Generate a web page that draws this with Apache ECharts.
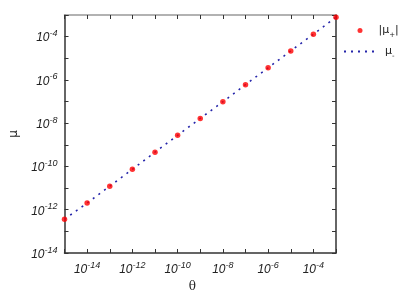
<!DOCTYPE html>
<html><head><meta charset="utf-8">
<script src="https://cdn.jsdelivr.net/npm/echarts@6/dist/echarts.min.js"></script>
<style>html,body{margin:0;padding:0;background:#fff}#c{width:415px;height:291px}</style>
</head><body><div id="c"></div>
<script>
const theta = [1e-15,1e-14,1e-13,1e-12,1e-11,1e-10,1e-9,1e-8,1e-7,1e-6,1e-5,1e-4,1e-3];
const muPlus = [3.63e-13,2.04e-12,1.23e-11,7.41e-11,4.57e-10,2.75e-9,1.66e-8,9.77e-8,6.03e-7,3.63e-6,2.19e-5,1.29e-4,7.94e-4];
const muMinus = [3.63e-13,2.04e-12,1.23e-11,7.41e-11,4.57e-10,2.75e-9,1.66e-8,9.77e-8,6.03e-7,3.63e-6,2.19e-5,1.29e-4,7.94e-4];
const xMin = 1e-15, xMax = 1e-3, yMin = 1e-14, yMax = 1e-3;
const nameP = '|μ+|', nameM = 'μ-';

const FONT = 'Liberation Sans';
const rich = {
  b: {fontSize: 12, lineHeight: 15, verticalAlign: 'bottom', fontStyle: 'italic', fontFamily: FONT, color: '#222'},
  s: {fontSize: 9, lineHeight: 9, verticalAlign: 'top', fontStyle: 'italic', fontFamily: FONT, color: '#222'}
};
function fmt(v) {
  const e = Math.round(Math.log10(v));
  if (e % 2 !== 0) return '';
  return '{b|10}{s|' + e + '}';
}
const tickStyle = {show: true, inside: true, length: 4, lineStyle: {color: '#333', width: 1}};
const chart = echarts.init(document.getElementById('c'), null, {renderer: 'canvas'});
const data1 = theta.map((t, i) => [t, muPlus[i]]);
const data2 = theta.map((t, i) => [t, muMinus[i]]);
const legSub = {sub: {fontSize: 7, verticalAlign: 'bottom', lineHeight: 16, fontFamily: 'DejaVu Sans', color: '#222'}};
chart.setOption({
  animation: false,
  grid: {left: 64.5, right: 79, top: 15, bottom: 38, containLabel: false, outerBoundsMode: 'none'},
  xAxis: [{
    type: 'log', logBase: 10, min: xMin, max: xMax, interval: 1,
    name: 'θ', nameLocation: 'middle', nameGap: 28,
    nameTextStyle: {fontFamily: 'DejaVu Serif', fontSize: 12, color: '#222', padding: [0, 16, 0, 0]},
    axisLine: {show: true, lineStyle: {color: '#333', width: 1.5}},
    axisTick: tickStyle, splitLine: {show: false}, minorTick: {show: false},
    axisLabel: {formatter: fmt, rich: rich, margin: 8, showMinLabel: true, showMaxLabel: true}
  }, {
    type: 'log', logBase: 10, min: xMin, max: xMax, interval: 1, position: 'top',
    axisLine: {show: true, lineStyle: {color: '#999', width: 1.5}},
    axisTick: tickStyle, axisLabel: {show: false}, splitLine: {show: false}
  }],
  yAxis: [{
    type: 'log', logBase: 10, min: yMin, max: yMax, interval: 1,
    name: 'μ', nameLocation: 'middle', nameGap: 43,
    nameTextStyle: {fontFamily: 'DejaVu Sans', fontSize: 12, color: '#222'},
    axisLine: {show: true, lineStyle: {color: '#333', width: 1.5}},
    axisTick: tickStyle, splitLine: {show: false},
    axisLabel: {formatter: fmt, rich: rich, margin: 7, showMinLabel: true, showMaxLabel: true}
  }, {
    type: 'log', logBase: 10, min: yMin, max: yMax, interval: 1, position: 'right',
    axisLine: {show: true, lineStyle: {color: '#333', width: 1.5}},
    axisTick: tickStyle, axisLabel: {show: false}, splitLine: {show: false}
  }],
  legend: [{
    data: [{name: nameP, icon: 'circle'}], orient: 'vertical', left: 352.5, top: 20, padding: 5,
    itemWidth: 5, itemHeight: 5, itemGap: 0,
    formatter: () => '|μ{sub|+}|',
    textStyle: {fontFamily: 'DejaVu Sans', fontSize: 11, color: '#222', padding: [0, 0, 0, 11], rich: legSub}
  }, {
    data: [{name: nameM, itemStyle: {opacity: 0}}], orient: 'vertical', left: 338, top: 41, padding: 5,
    itemWidth: 31, itemHeight: 14, itemGap: 0,
    formatter: () => 'μ{sub|-}',
    textStyle: {fontFamily: 'DejaVu Sans', fontSize: 11, color: '#222', padding: [0, 0, 0, 5], rich: legSub}
  }],
  series: [{
    name: nameM, type: 'line', data: data2, symbol: 'none', z: 2,
    lineStyle: {color: '#2525aa', width: 1.6, type: [2, 5]},
    itemStyle: {color: '#2525aa'}
  }, {
    name: nameP, type: 'scatter', data: data1, symbol: 'circle', symbolSize: 5.5, z: 3,
    itemStyle: {color: '#ff0000'}
  }]
});
</script></body></html>
